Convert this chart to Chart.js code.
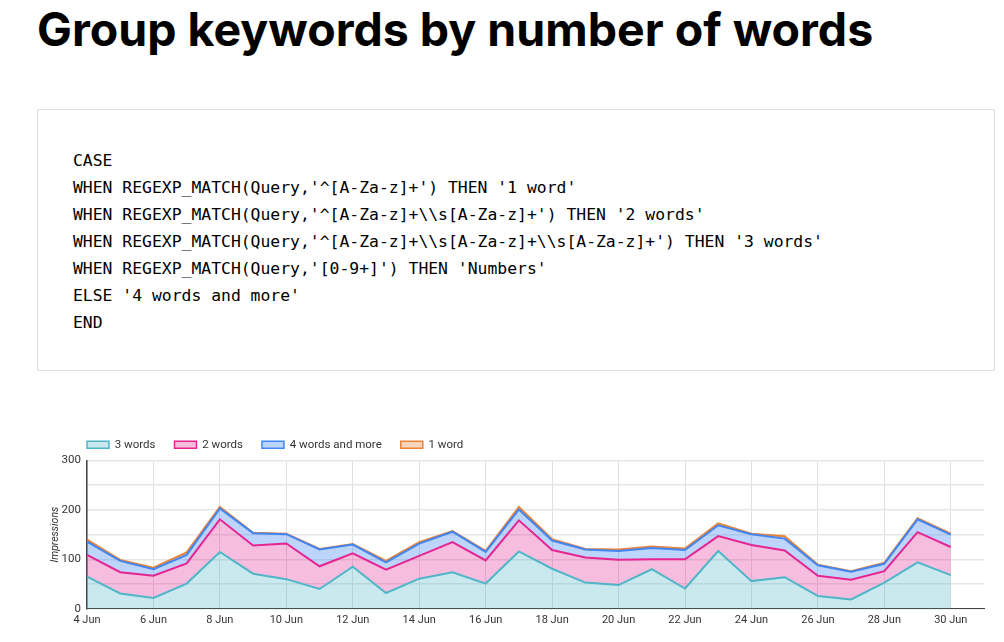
<!DOCTYPE html>
<html>
<head>
<meta charset="utf-8">
<script src="https://cdn.jsdelivr.net/npm/chart.js@4"></script>
<style>
  body { margin: 0; background: #fff; width: 1004px; height: 642px; overflow: hidden; position: relative; }
  h1 { position: absolute; left: 37px; top: 1px; margin: 0; font-family: Inter, Roboto, sans-serif; font-weight: 700; font-size: 46.5px; color: #000; }
  .code { position: absolute; left: 37px; top: 109px; width: 958px; height: 262px; border: 1px solid #ddd; box-sizing: border-box; }
  .code pre { margin: 0; position: absolute; left: 35px; top: 37px; font-family: "DejaVu Sans Mono", monospace; font-size: 16.4px; line-height: 27px; color: #000; }
  #wrap { position: absolute; left: 40px; top: 420px; width: 950px; height: 212px; }
</style>
</head>
<body>
<h1>Group keywords by number of words</h1>
<div class="code"><pre>CASE
WHEN REGEXP_MATCH(Query,'^[A-Za-z]+') THEN '1 word'
WHEN REGEXP_MATCH(Query,'^[A-Za-z]+\\s[A-Za-z]+') THEN '2 words'
WHEN REGEXP_MATCH(Query,'^[A-Za-z]+\\s[A-Za-z]+\\s[A-Za-z]+') THEN '3 words'
WHEN REGEXP_MATCH(Query,'[0-9+]') THEN 'Numbers'
ELSE '4 words and more'
END</pre></div>
<div id="wrap"><canvas id="chart"></canvas></div>
<script>
// days of June shown on the x axis
const days = [4, 5, 6, 7, 8, 9, 10, 11, 12, 13, 14, 15, 16, 17, 18, 19, 20, 21, 22, 23, 24, 25, 26, 27, 28, 29, 30];

// impressions per group (stacked in this order, bottom first)
const threeWords = [65, 31, 22, 51, 115, 71, 60, 40, 85, 32, 61, 74, 51, 116, 81, 53, 48, 80, 41, 117, 56, 64, 26, 19, 53, 94, 68];
const twoWords   = [44, 43, 45, 41, 66, 57, 72, 46, 27, 47, 46, 61, 47, 63, 38, 51, 51, 20, 59, 30, 73, 54, 41, 40, 23, 61, 57];
const fourWords  = [27, 23, 13, 17, 22, 25, 19, 34, 18, 15, 25, 21, 17, 22, 19, 16, 18, 23, 19, 22, 22, 24, 21, 16, 15, 26, 25];
const oneWord    = [4, 2, 3, 5, 3, 1, 1, 1, 1, 3, 3, 1, 2, 5, 3, 1, 3, 3, 3, 4, 1, 5, 1, 1, 2, 2, 2];

const yTicks = [0, 100, 200, 300];

document.addEventListener('DOMContentLoaded', () => {
    const ctx = document.getElementById('chart').getContext('2d');

    const toPoints = (vals) => vals.map((v, i) => ({ x: days[i], y: v }));

    const mk = (label, vals, line, fill, fillTo) => ({
        label: label,
        data: toPoints(vals),
        borderColor: line,
        backgroundColor: fill,
        borderWidth: 2,
        pointRadius: 0,
        tension: 0,
        fill: fillTo
    });

    // legend starts at the plot's left edge, like the original
    const legendOffset = {
        id: 'legendOffset',
        afterLayout(chart) {
            chart.legend.left = chart.chartArea.left - chart.options.plugins.legend.labels.padding;
        }
    };

    new Chart(ctx, {
        type: 'line',
        data: {
            datasets: [
                mk('3 words', threeWords, '#4fb6c8', 'rgba(79, 182, 200, 0.3)', 'origin'),
                mk('2 words', twoWords, '#e52592', 'rgba(229, 37, 146, 0.3)', '-1'),
                mk('4 words and more', fourWords, '#4285f4', 'rgba(66, 133, 244, 0.35)', '-1'),
                mk('1 word', oneWord, '#e8833a', 'rgba(232, 131, 58, 0.35)', '-1')
            ]
        },
        plugins: [legendOffset],
        options: {
            responsive: true,
            maintainAspectRatio: false,
            animation: false,
            layout: { padding: { left: 0, right: 6, top: 0, bottom: 0 } },
            plugins: {
                tooltip: { enabled: false },
                legend: {
                    align: 'start',
                    labels: {
                        boxWidth: 22,
                        boxHeight: 7,
                        padding: 19,
                        color: '#333',
                        font: { family: 'Roboto', size: 11.5 },
                        generateLabels: (chart) => chart.data.datasets.map((ds, i) => ({
                            text: ds.label,
                            fillStyle: ds.backgroundColor,
                            strokeStyle: ds.borderColor,
                            lineWidth: 1.5,
                            datasetIndex: i,
                            fontColor: '#333'
                        }))
                    }
                }
            },
            scales: {
                x: {
                    type: 'linear',
                    min: 4,
                    max: 31,
                    afterBuildTicks: (scale) => {
                        scale.ticks = days.filter(d => d % 2 === 0).map(d => ({ value: d }));
                    },
                    ticks: {
                        color: '#333',
                        font: { family: 'Roboto', size: 11 },
                        maxRotation: 0,
                        padding: 5,
                        callback: (v) => v + ' Jun'
                    },
                    grid: { color: '#e0e0e0', drawTicks: false },
                    border: { color: '#444', width: 1 }
                },
                y: {
                    stacked: true,
                    min: 0,
                    max: 300,
                    afterFit: (scale) => { scale.width = 47; },
                    afterBuildTicks: (scale) => {
                        scale.ticks = [0, 50, 100, 150, 200, 250, 300].map(v => ({ value: v }));
                    },
                    ticks: {
                        color: '#333',
                        font: { family: 'Roboto', size: 11.5 },
                        padding: 6,
                        callback: (v) => yTicks.includes(v) ? v : ''
                    },
                    grid: { color: '#e6e6e6', lineWidth: 1.5, drawTicks: false },
                    border: { color: '#444', width: 1.5 },
                    title: {
                        display: true,
                        text: 'Impressions',
                        color: '#333',
                        font: { family: 'Roboto', size: 10.5, style: 'italic' },
                        padding: { top: 9, bottom: 0 }
                    }
                }
            }
        }
    });
});
</script>
</body>
</html>
